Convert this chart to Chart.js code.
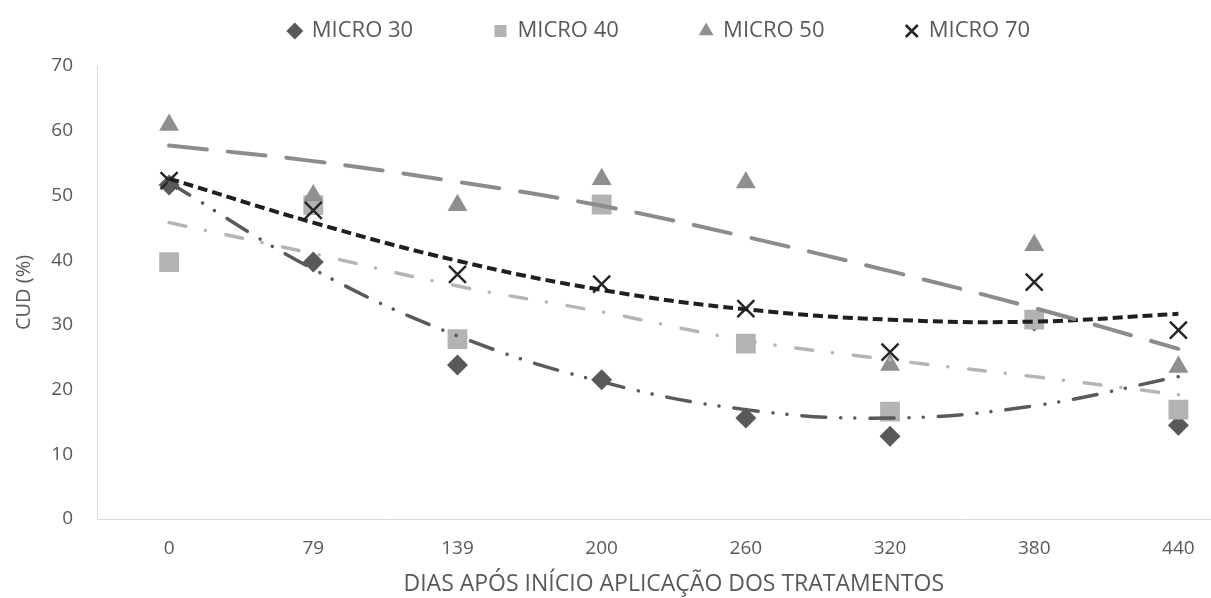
<!DOCTYPE html>
<html>
<head>
<meta charset="utf-8">
<script src="https://cdn.jsdelivr.net/npm/chart.js@4.4.1/dist/chart.umd.min.js"></script>
<style>
  html, body { margin: 0; padding: 0; background: #fff; overflow: hidden; }
  #wrap { width: 1265px; height: 598px; }
</style>
</head>
<body>
<div id="wrap"><canvas id="myChart"></canvas></div>
<script>
// days after start of treatment (category axis)
const dias = ['0', '79', '139', '200', '260', '320', '380', '440'];

// measured CUD (%) per treatment
const micro30 = [51.6, 39.7, 23.8, 21.5, 15.6, 12.8, 30.6, 14.5];
const micro40 = [39.7, 48.5, 27.8, 48.6, 27.1, 16.6, 30.8, 16.9];
const micro50 = [60.9, 50.0, 48.5, 52.5, 52.0, 23.8, 42.3, 23.5];
const micro70 = [52.3, 47.7, 37.8, 36.3, 32.5, 25.8, 36.6, 29.2];

// trend lines
const trend30 = [52.0, 38.6, 28.3, 21.2, 16.9, 15.6, 17.5, 22.0];
const trend40 = [45.8, 41.0, 36.0, 32.0, 27.6, 24.6, 22.0, 19.2];
const trend50 = [57.7, 55.3, 52.1, 48.4, 43.6, 38.3, 32.6, 26.3];
const trend70 = [52.6, 45.8, 39.9, 35.4, 32.4, 30.8, 30.5, 31.7];

const yTicks = [0, 10, 20, 30, 40, 50, 60, 70];

const txt = '#595959';
const font = 'Open Sans';

const markers = (label, data, style, color, radius, order) => ({
  label: label,
  data: data,
  showLine: false,
  pointStyle: style,
  pointRadius: radius,
  pointHoverRadius: radius,
  backgroundColor: color,
  borderColor: color,
  pointBorderWidth: style === 'crossRot' ? 2.5 : 0,
  order: order
});

const trend = (label, data, color, dash, cap, width) => ({
  label: label,
  data: data,
  isTrend: true,
  borderColor: color,
  borderWidth: width,
  borderDash: dash,
  borderCapStyle: cap,
  pointRadius: 0,
  fill: false,
  tension: 0.4,
  order: 0
});

// a bit more room between legend and plot
const legendMargin = {
  id: 'legendMargin',
  beforeInit(chart) {
    const fit = chart.legend.fit;
    chart.legend.fit = function () {
      fit.call(this);
      this.height += 14;
    };
  }
};

const ctx = document.getElementById('myChart');
new Chart(ctx, {
  type: 'line',
  data: {
    labels: dias,
    datasets: [
      markers('MICRO 30', micro30, 'rectRot', '#595959', 10.5, 4),
      markers('MICRO 40', micro40, 'rect', '#b3b3b3', 14, 3),
      markers('MICRO 50', micro50, 'triangle', '#8f8f8f', 11.5, 2),
      markers('MICRO 70', micro70, 'crossRot', '#262626', 12, 1),
      trend('trend 30', trend30, '#5a5a5a', [24, 15, 0.1, 14, 0.1, 15], 'round', 3.5),
      trend('trend 40', trend40, '#b5b5b5', [17, 20, 0.1, 21], 'round', 3.5),
      trend('trend 50', trend50, '#8c8c8c', [38, 21], 'round', 4),
      trend('trend 70', trend70, '#1f1f1f', [10, 5], 'butt', 4)
    ]
  },
  plugins: [legendMargin],
  options: {
    responsive: true,
    maintainAspectRatio: false,
    animation: false,
    layout: { padding: { top: 13, right: 11, bottom: 0, left: 0 } },
    plugins: {
      tooltip: { enabled: false },
      legend: {
        position: 'top',
        fullSize: false,
        labels: {
          color: txt,
          font: { family: font, size: 22 },
          usePointStyle: true,
          boxWidth: 12,
          boxHeight: 12,
          padding: 7,
          generateLabels: (chart) => {
            const items = Chart.defaults.plugins.legend.labels.generateLabels(chart);
            const shown = items
              .filter(it => !chart.data.datasets[it.datasetIndex].isTrend)
              .sort((a, b) => a.datasetIndex - b.datasetIndex);
            shown.forEach((it, i) => {
              it.text = it.text + '\u00a0'.repeat(i < shown.length - 1 ? 13 : 5);
            });
            return shown;
          }
        }
      }
    },
    scales: {
      x: {
        type: 'category',
        offset: true,
        afterFit: (scale) => { scale.height = 79; },
        grid: { display: false, drawTicks: false },
        border: { display: true, color: '#d9d9d9', width: 1 },
        ticks: { color: txt, font: { family: font, size: 19 }, padding: 18 },
        title: {
          display: true,
          text: 'DIAS APÓS INÍCIO APLICAÇÃO DOS TRATAMENTOS',
          color: txt,
          font: { family: font, size: 23 },
          padding: { top: 0, bottom: 0 }
        }
      },
      y: {
        min: 0,
        max: 70,
        afterBuildTicks: (scale) => { scale.ticks = yTicks.map(v => ({ value: v })); },
        afterFit: (scale) => { scale.width = 97; },
        grid: { display: false, drawTicks: false },
        border: { display: true, color: '#d9d9d9', width: 1 },
        ticks: { color: txt, font: { family: font, size: 19 }, padding: 24 },
        title: {
          display: true,
          text: 'CUD (%)',
          color: txt,
          font: { family: font, size: 20 },
          padding: { top: 12, bottom: 0 }
        }
      }
    }
  }
});
</script>
</body>
</html>
